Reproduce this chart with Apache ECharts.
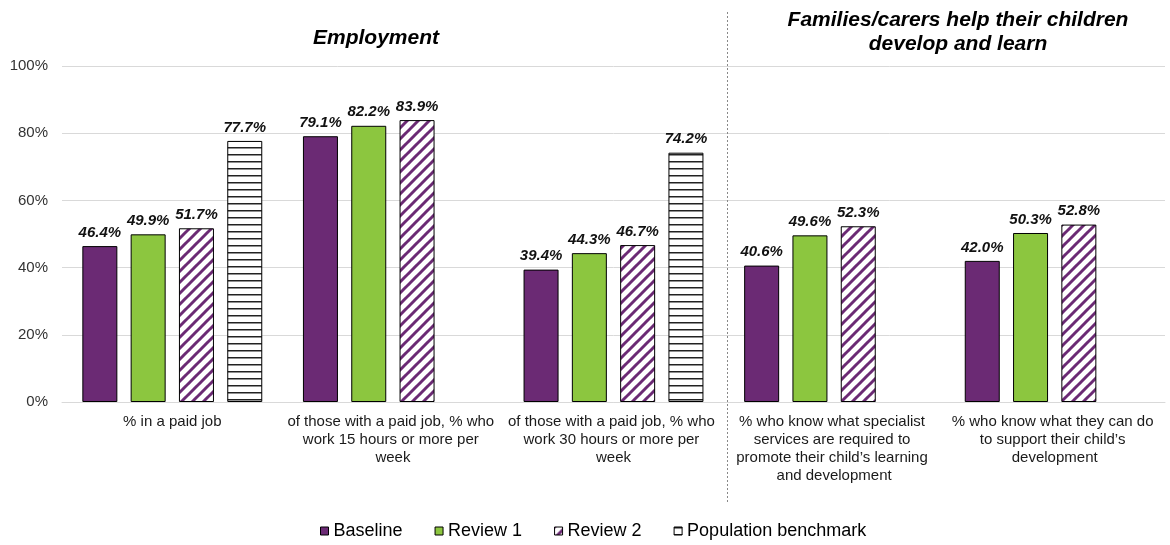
<!DOCTYPE html>
<html>
<head>
<meta charset="utf-8">
<script src="https://cdn.jsdelivr.net/npm/echarts@6/dist/echarts.min.js"></script>
<style>
  html, body { margin: 0; padding: 0; background: #fff; }
  #chart { width: 1170px; height: 545px; }
</style>
</head>
<body>
<div id="chart"></div>
<script>
// Survey indicators, grouped as Employment (first three) and Families/carers (last two)
const categories = [
  '% in a paid job',
  'of those with a paid job, % who work 15 hours or more per week',
  'of those with a paid job, % who work 30 hours or more per week',
  '% who know what specialist services are required to promote their child\u2019s learning and development',
  '% who know what they can do to support their child\u2019s development'
];
const seriesNames = ['Baseline', 'Review 1', 'Review 2', 'Population benchmark'];
const baseline = [46.4, 79.1, 39.4, 40.6, 42.0];
const review1 = [49.9, 82.2, 44.3, 49.6, 50.3];
const review2 = [51.7, 83.9, 46.7, 52.3, 52.8];
const benchmark = [77.7, null, 74.2, null, null];
const yTicks = { min: 0, max: 100, interval: 20 };
const groupTitles = ['Employment', 'Families/carers help their children\ndevelop and learn'];

const PURPLE = '#6b2a74';
const GREEN = '#8cc63f';
const FONT = 'Liberation Sans, Arial, sans-serif';

// White tile with purple "/" stripes
function diagonalPattern() {
  const s = 11;
  const c = document.createElement('canvas');
  c.width = s; c.height = s;
  const g = c.getContext('2d');
  g.fillStyle = '#fff';
  g.fillRect(0, 0, s, s);
  g.strokeStyle = PURPLE;
  g.lineWidth = 3.0;
  for (let k = -1; k <= 1; k++) {
    g.beginPath();
    g.moveTo(k * s - 1, s + 1);
    g.lineTo(k * s + s + 1, -1);
    g.stroke();
  }
  return c;
}

// White tile with a dark horizontal rule
function horizontalPattern() {
  const c = document.createElement('canvas');
  c.width = 4; c.height = 7;
  const g = c.getContext('2d');
  g.fillStyle = '#fff';
  g.fillRect(0, 0, 4, 7);
  g.fillStyle = '#222';
  g.fillRect(0, 0, 4, 1.5);
  return c;
}

const fills = [
  PURPLE,
  GREEN,
  { image: diagonalPattern(), repeat: 'repeat' },
  { image: horizontalPattern(), repeat: 'repeat' }
];
const values = [baseline, review1, review2, benchmark];

const chart = echarts.init(document.getElementById('chart'), null, { renderer: 'canvas' });

const titleStyle = {
  fontFamily: FONT, fontSize: 21, fontWeight: 'bold', fontStyle: 'italic',
  fill: '#000', align: 'center', verticalAlign: 'middle', lineHeight: 24
};

const option = {
  animation: false,
  grid: { left: 62, right: 5, top: 66, bottom: 143, containLabel: false },
  legend: {
    data: seriesNames,
    left: 315, top: 517,
    itemWidth: 8, itemHeight: 8, itemGap: 32,
    icon: 'rect',
    itemStyle: { borderColor: '#000', borderWidth: 1 },
    textStyle: { fontFamily: FONT, fontSize: 18, color: '#000' }
  },
  xAxis: {
    type: 'category',
    data: categories,
    axisLine: { lineStyle: { color: '#d9d9d9', width: 1 } },
    axisTick: { show: false },
    axisLabel: {
      interval: 0,
      margin: 11,
      width: 212,
      overflow: 'break',
      fontFamily: FONT, fontSize: 15, color: '#1a1a1a', lineHeight: 18, align: 'center'
    }
  },
  yAxis: {
    type: 'value',
    min: yTicks.min, max: yTicks.max, interval: yTicks.interval,
    axisLine: { show: false },
    axisTick: { show: false },
    splitLine: { lineStyle: { color: '#d9d9d9', width: 1 } },
    axisLabel: { formatter: '{value}%', margin: 14, fontFamily: FONT, fontSize: 15, color: '#333' }
  },
  series: seriesNames.map((name, i) => ({
    name,
    type: 'bar',
    data: values[i],
    barWidth: 35,
    barGap: '38%',
    itemStyle: { color: fills[i], borderColor: '#000', borderWidth: 1 },
    label: {
      show: true,
      position: 'top',
      distance: 6,
      formatter: (p) => p.value == null ? '' : p.value.toFixed(1) + '%',
      fontFamily: FONT, fontSize: 15, fontWeight: 'bold', fontStyle: 'italic', color: '#111'
    }
  }))
};

chart.setOption(option);

// Dashed divider between the two indicator groups, placed midway between categories 3 and 4
const x3 = chart.convertToPixel({ xAxisIndex: 0 }, categories[2]);
const x4 = chart.convertToPixel({ xAxisIndex: 0 }, categories[3]);
const divX = Math.round((x3 + x4) / 2) + 3.5;
chart.setOption({
  graphic: [
    {
      type: 'line',
      shape: { x1: divX, y1: 12, x2: divX, y2: 502 },
      style: { stroke: '#888', lineWidth: 1, lineDash: [2, 2] },
      silent: true
    },
    { type: 'text', x: 376, y: 38, style: Object.assign({ text: groupTitles[0] }, titleStyle), silent: true },
    { type: 'text', x: 958, y: 32, style: Object.assign({ text: groupTitles[1] }, titleStyle), silent: true }
  ]
});
</script>
</body>
</html>
